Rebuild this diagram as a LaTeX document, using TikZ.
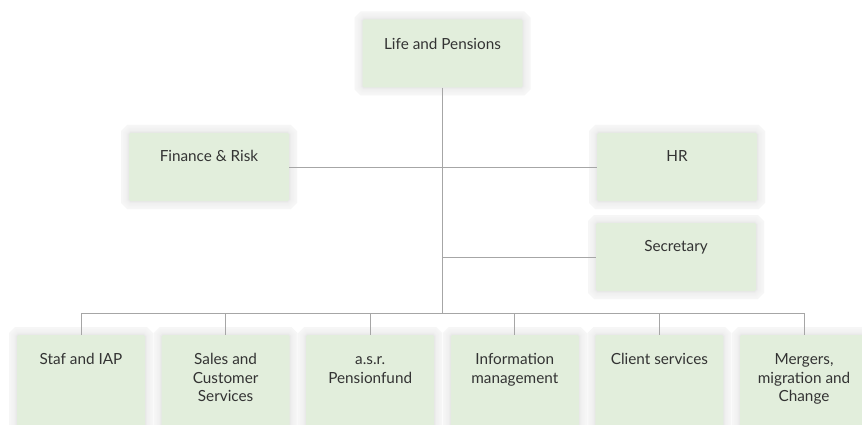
\documentclass[tikz,border=0pt]{standalone}
\usepackage{fontspec}
\setmainfont{Lato}
\definecolor{boxfill}{HTML}{E2EEDC}
\definecolor{linec}{HTML}{A6A6A6}
\definecolor{txt}{HTML}{333333}
\newcommand\boxtext[1]{\parbox[t]{150pt}{\centering #1}}
\tikzset{
  orgbox/.style={rectangle, rounded corners=1.5pt, fill=boxfill, inner sep=0pt,
    minimum width=160pt, minimum height=68pt,
    preaction={draw=black!3.5, fill=black!3.5, line width=16pt, sharp corners},
    preaction={draw=black!4.2, line width=12pt},
    preaction={draw=black!5, line width=9pt},
    preaction={draw=black!6, line width=6pt},
    preaction={draw=black!7.5, line width=3.5pt},
    preaction={draw=black!9, line width=1.5pt}},
  lowbox/.style={orgbox, minimum width=128pt, minimum height=100pt},
  lbl/.style={anchor=base, inner sep=0pt, text=txt,
    font=\fontsize{15.3}{18.5}\selectfont},
  conn/.style={draw=linec, line width=1pt}
}
\begin{document}
\begin{tikzpicture}[x=1pt,y=-1pt]
\useasboundingbox (0,0) rectangle (862,425);
\clip (0,0) rectangle (862,425);
\fill[white] (0,0) rectangle (862,425);

% top level
\node[orgbox] (lp) at (442.5,53.5) {};
\node[lbl] (lpt) at ([yshift=-30.5pt]lp.north) {\boxtext{Life and Pensions}};

% staff level
\node[orgbox] (fin) at (209,167) {};
\node[lbl] (fint) at ([yshift=-28.5pt]fin.north) {\boxtext{Finance \& Risk}};
\node[orgbox] (hr) at (677,167) {};
\node[lbl] (hrt) at ([yshift=-28.5pt]hr.north) {\boxtext{HR}};
\node[orgbox] (sec) at (676,257) {};
\node[lbl] (sect) at ([yshift=-28.5pt]sec.north) {\boxtext{Secretary}};

% bottom level
\node[lowbox] (b1) at (81,385) {};
\node[lowbox] (b2) at (225.6,385) {};
\node[lowbox] (b3) at (370.2,385) {};
\node[lowbox] (b4) at (514.8,385) {};
\node[lowbox] (b5) at (659.4,385) {};
\node[lowbox] (b6) at (804,385) {};
\node[lbl] (b1t) at ([yshift=-30pt]b1.north) {\boxtext{Staf and IAP}};
\node[lbl] (b2t) at ([yshift=-30pt]b2.north) {\boxtext{Sales and\\Customer\\Services}};
\node[lbl] (b3t) at ([yshift=-30pt]b3.north) {\boxtext{a.s.r.\\Pensionfund}};
\node[lbl] (b4t) at ([yshift=-30pt]b4.north) {\boxtext{Information\\management}};
\node[lbl] (b5t) at ([yshift=-30pt]b5.north) {\boxtext{Client services}};
\node[lbl] (b6t) at ([yshift=-30pt]b6.north) {\boxtext{Mergers,\\migration and\\Change}};

% connectors
\coordinate (bus) at (442,313);
\draw[conn] (lp.south -| bus) -- (bus);
\draw[conn] (fin.east) -- (hr.west);
\draw[conn] (sec.west) -- (sec.west -| bus);
\draw[conn] (b1.north |- bus) -- (b6.north |- bus);
\foreach \b in {b1,b2,b3,b4,b5,b6}{
  \draw[conn] (\b.north) -- (\b.north |- bus);
}
\end{tikzpicture}
\end{document}
